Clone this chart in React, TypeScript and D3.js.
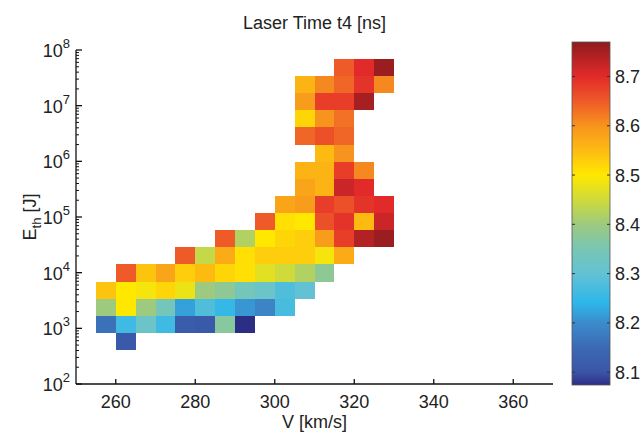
import React, { useEffect, useRef } from 'react';
import * as d3 from 'd3';

// lower edges of the V bins [km/s], each bin 5 km/s wide
const vBins = [255, 260, 265, 270, 275, 280, 285, 290, 295, 300, 305, 310, 315, 320, 325];
const vBinWidth = 5;

// log10(E_th) bin edges, bottom to top
const logEEdges = [2.61, 2.92, 3.23, 3.53, 3.84, 4.15, 4.46, 4.76, 5.07, 5.38, 5.69, 5.99, 6.3, 6.61, 6.92, 7.23, 7.53, 7.84];

const _ = null;
// laser time t4 [ns], one row per E bin (bottom first), one column per V bin
const t4Rows = [
  [_, 8.11, _, _, _, _, _, _, _, _, _, _, _, _, _],
  [8.16, 8.26, 8.32, 8.26, 8.12, 8.11, 8.37, 8.07, _, _, _, _, _, _, _],
  [8.4, 8.5, 8.4, 8.34, 8.22, 8.28, 8.25, 8.21, 8.19, 8.27, _, _, _, _, _],
  [8.54, 8.5, 8.49, 8.52, 8.48, 8.4, 8.38, 8.34, 8.32, 8.28, 8.3, _, _, _, _],
  [_, 8.65, 8.54, 8.58, 8.53, 8.55, 8.52, 8.51, 8.47, 8.45, 8.42, 8.38, _, _, _],
  [_, _, _, _, 8.65, 8.44, 8.57, 8.51, 8.53, 8.53, 8.53, 8.49, 8.57, _, _],
  [_, _, _, _, _, _, 8.65, 8.42, 8.5, 8.52, 8.53, 8.59, 8.68, 8.74, 8.76],
  [_, _, _, _, _, _, _, _, 8.65, 8.51, 8.5, 8.66, 8.69, 8.55, 8.72],
  [_, _, _, _, _, _, _, _, _, 8.58, 8.59, 8.68, 8.66, 8.69, 8.7],
  [_, _, _, _, _, _, _, _, _, _, 8.58, 8.56, 8.72, 8.7, _],
  [_, _, _, _, _, _, _, _, _, _, 8.56, 8.56, 8.68, 8.61, _],
  [_, _, _, _, _, _, _, _, _, _, _, 8.55, 8.6, _, _],
  [_, _, _, _, _, _, _, _, _, _, 8.64, 8.66, 8.64, _, _],
  [_, _, _, _, _, _, _, _, _, _, 8.52, 8.6, 8.63, _, _],
  [_, _, _, _, _, _, _, _, _, _, 8.59, 8.68, 8.68, 8.75, _],
  [_, _, _, _, _, _, _, _, _, _, 8.56, 8.61, 8.64, 8.69, 8.61],
  [_, _, _, _, _, _, _, _, _, _, _, _, 8.65, 8.7, 8.76],
];

const xTicks = [260, 280, 300, 320, 340, 360];
const yExponents = [2, 3, 4, 5, 6, 7, 8];
const cbTicks = [8.1, 8.2, 8.3, 8.4, 8.5, 8.6, 8.7];

// jet-like colormap as it appears on the colorbar
const colorStops = [8.074, 8.1, 8.15, 8.2, 8.24, 8.3, 8.35, 8.4, 8.45, 8.5, 8.55, 8.6, 8.65, 8.7, 8.77];
const colorRange = ['#2c2e85', '#3a55a5', '#3b6ab4', '#3c8bcb', '#2db6ea', '#62c2d4', '#78c6b4', '#9dca7e',
  '#cfdb3a', '#ffe800', '#fdbb12', '#f7941d', '#ee5a28', '#e22a2a', '#8e1b1e'];

function App() {
  const ref = useRef(null);

  useEffect(() => {
    const font = '"Liberation Sans", Arial, sans-serif';
    const left = 76, right = 553, top = 50, bottom = 384;
    const fs = 18;

    const svg = d3.select(ref.current);
    svg.selectAll('*').remove();
    svg.attr('font-family', font);

    const x = d3.scaleLinear().domain([250, 370]).range([left, right]);
    const y = d3.scaleLog().domain([1e2, 1e8]).range([bottom, top]);
    const color = d3.scaleLinear().domain(colorStops).range(colorRange).clamp(true);

    // cells
    const cells = [];
    t4Rows.forEach((row, r) => {
      row.forEach((val, c) => {
        if (val != null) cells.push({ r, c, val });
      });
    });
    svg.append('g')
      .attr('shape-rendering', 'crispEdges')
      .selectAll('rect')
      .data(cells)
      .join('rect')
      .attr('x', (d) => x(vBins[d.c]))
      .attr('width', (d) => x(vBins[d.c] + vBinWidth) - x(vBins[d.c]))
      .attr('y', (d) => y(10 ** logEEdges[d.r + 1]))
      .attr('height', (d) => y(10 ** logEEdges[d.r]) - y(10 ** logEEdges[d.r + 1]))
      .attr('fill', (d) => color(d.val));

    // axes lines
    const ax = svg.append('g').attr('stroke', '#111').attr('stroke-width', 1.3);
    ax.append('line').attr('x1', left).attr('x2', left).attr('y1', top).attr('y2', bottom);
    ax.append('line').attr('x1', left).attr('x2', right).attr('y1', bottom).attr('y2', bottom);

    // x ticks (inward)
    ax.selectAll('.xt')
      .data(xTicks)
      .join('line')
      .attr('x1', (d) => x(d)).attr('x2', (d) => x(d))
      .attr('y1', bottom).attr('y2', bottom - 5);
    svg.append('g')
      .selectAll('text')
      .data(xTicks)
      .join('text')
      .attr('x', (d) => x(d))
      .attr('y', bottom + 24)
      .attr('text-anchor', 'middle')
      .attr('font-size', fs)
      .attr('fill', '#222')
      .text((d) => d);

    // y ticks: major + minor, inward
    const minor = [];
    yExponents.slice(0, -1).forEach((e) => {
      for (let m = 2; m <= 9; m++) minor.push(m * 10 ** e);
    });
    ax.selectAll('.ym')
      .data(minor)
      .join('line')
      .attr('stroke-width', 1)
      .attr('x1', left).attr('x2', left + 3)
      .attr('y1', (d) => y(d)).attr('y2', (d) => y(d));
    ax.selectAll('.yM')
      .data(yExponents)
      .join('line')
      .attr('x1', left).attr('x2', left + 6)
      .attr('y1', (d) => y(10 ** d)).attr('y2', (d) => y(10 ** d));

    const yl = svg.append('g')
      .selectAll('text')
      .data(yExponents)
      .join('text')
      .attr('x', left - 6)
      .attr('y', (d) => y(10 ** d) + 7)
      .attr('text-anchor', 'end')
      .attr('font-size', fs)
      .attr('fill', '#222');
    yl.append('tspan').text('10');
    yl.append('tspan').attr('dy', -9).attr('font-size', 13).text((d) => d);

    // axis labels + title
    svg.append('text')
      .attr('x', (left + right) / 2)
      .attr('y', 428)
      .attr('text-anchor', 'middle')
      .attr('font-size', fs)
      .attr('fill', '#222')
      .text('V [km/s]');

    const ylab = svg.append('text')
      .attr('transform', `translate(36,${(top + bottom) / 2}) rotate(-90)`)
      .attr('text-anchor', 'middle')
      .attr('font-size', fs)
      .attr('fill', '#222');
    ylab.append('tspan').text('E');
    ylab.append('tspan').attr('dy', 5).attr('font-size', 13).text('th');
    ylab.append('tspan').attr('dy', -5).text(' [J]');

    svg.append('text')
      .attr('x', (left + right) / 2)
      .attr('y', 29)
      .attr('text-anchor', 'middle')
      .attr('font-size', fs)
      .attr('fill', '#222')
      .text('Laser Time t4 [ns]');

    // colorbar
    const cbX = 572, cbW = 38, cbTop = 42, cbBottom = 385;
    const cb = d3.scaleLinear().domain([colorStops[0], colorStops[colorStops.length - 1]]).range([cbBottom, cbTop]);
    const grad = svg.append('defs').append('linearGradient')
      .attr('id', 'cbgrad')
      .attr('x1', 0).attr('x2', 0).attr('y1', 1).attr('y2', 0);
    grad.selectAll('stop')
      .data(colorStops)
      .join('stop')
      .attr('offset', (d) => (cbBottom - cb(d)) / (cbBottom - cbTop))
      .attr('stop-color', (d) => color(d));
    svg.append('rect')
      .attr('x', cbX).attr('y', cbTop)
      .attr('width', cbW).attr('height', cbBottom - cbTop)
      .attr('fill', 'url(#cbgrad)')
      .attr('stroke', '#555')
      .attr('stroke-width', 0.8);
    const cbt = svg.append('g').attr('stroke', '#333').attr('stroke-width', 1);
    cbt.selectAll('.l')
      .data(cbTicks)
      .join('line')
      .attr('x1', cbX).attr('x2', cbX + 3)
      .attr('y1', (d) => cb(d)).attr('y2', (d) => cb(d));
    cbt.selectAll('.r')
      .data(cbTicks)
      .join('line')
      .attr('x1', cbX + cbW - 3).attr('x2', cbX + cbW)
      .attr('y1', (d) => cb(d)).attr('y2', (d) => cb(d));
    svg.append('g')
      .selectAll('text')
      .data(cbTicks)
      .join('text')
      .attr('x', cbX + cbW + 5)
      .attr('y', (d) => cb(d) + 6.5)
      .attr('font-size', fs)
      .attr('fill', '#222')
      .text((d) => d.toFixed(1));
  }, []);

  return (
    <svg
      ref={ref}
      width={642}
      height={433}
      style={{ position: 'absolute', left: 0, top: 0, background: '#fff' }}
    />
  );
}

export default App;
